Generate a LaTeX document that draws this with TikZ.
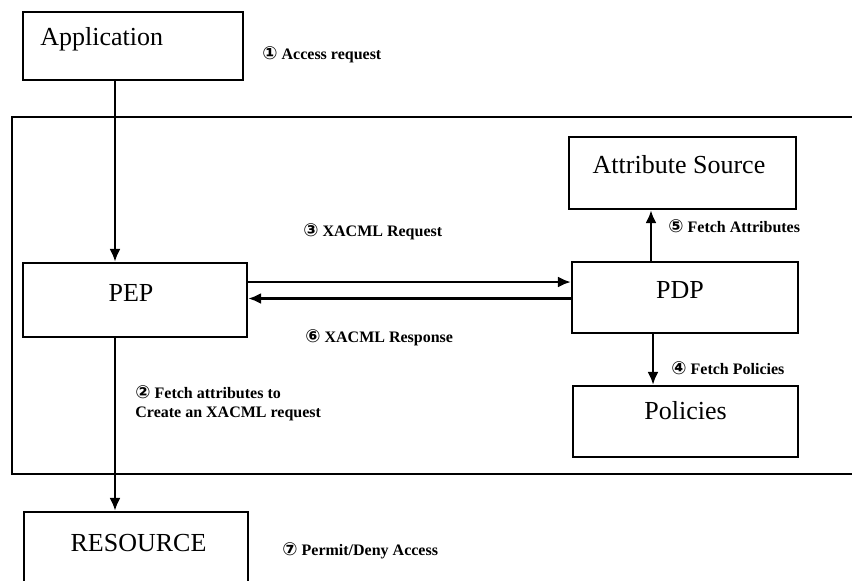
\documentclass[tikz,border=0pt]{standalone}
\usepackage{fontspec}
\setmainfont{Liberation Serif}
\newfontfamily\circfont{DejaVu Sans}
\usetikzlibrary{arrows.meta,calc}
\newcommand{\stepno}[1]{{\circfont\fontsize{9}{10}\selectfont #1}}
\tikzset{
  blk/.style={draw=black,line width=1.2pt,inner sep=0pt},
  blktxt/.style={font=\fontsize{13}{15}\selectfont,inner sep=0pt,anchor=base},
  lbl/.style={font=\fontsize{8}{9.5}\selectfont\bfseries,anchor=base west,inner sep=0pt},
  con/.style={-{Latex[length=6.5pt,width=5.5pt]},line width=1.1pt},
}

\begin{document}
\begin{tikzpicture}[x=0.5pt,y=-0.5pt]
  \clip (0,0) rectangle (852,580);
  % outer frame (right side runs off the page)
  \draw[line width=1.2pt] (870,117) -- (12,117) -- (12,474) -- (870,474);

  % boxes
  \node[blk,minimum width=110pt,minimum height=34pt] (app) at (133,46) {};
  \node[blk,minimum width=112pt,minimum height=37pt] (pep) at (135,300) {};
  \node[blk,minimum width=113pt,minimum height=35.5pt] (pdp) at (685,297.5) {};
  \node[blk,minimum width=113.5pt,minimum height=36pt] (attr) at (682.5,173) {};
  \node[blk,minimum width=112.5pt,minimum height=35.5pt] (pol) at (685.5,421.5) {};
  \node[blk,minimum width=112pt,minimum height=44pt] (res) at (136,556) {};

  % box texts
  \node[blktxt,anchor=base west] (apptxt) at (40,45) {Application};
  \node[blktxt] (attrtxt) at (679,173) {Attribute Source};
  \node[blktxt] (peptxt) at (131,301) {PEP};
  \node[blktxt] (pdptxt) at (680,298) {PDP};
  \node[blktxt] (poltxt) at (685.5,419) {Policies};
  \node[blktxt] (restxt) at (138.5,551) {RESOURCE};

  % connectors
  \draw[con] ([xshift=-9pt]app.south) -- ([xshift=-9pt]app.south |- pep.north);
  \draw[con] ([xshift=-10pt]pep.south) -- ([xshift=-10pt]pep.south |- res.north);
  \draw[con] ([yshift=9pt]pep.east) -- ([yshift=9pt]pep.east -| pdp.west);
  \draw[con] ([yshift=-0.5pt]pdp.west) -- ([yshift=-0.5pt]pdp.west -| pep.east);
  \draw[con] ([xshift=-17pt]pdp.north) -- ([xshift=-17pt]pdp.north |- attr.south);
  \draw[con] ([xshift=-16pt]pdp.south) -- ([xshift=-16pt]pdp.south |- pol.north);

  % step labels
  \node[lbl] (s1) at (262,59) {\stepno{①} Access request};
  \node[lbl] (s3) at (303,236) {\stepno{③} XACML Request};
  \node[lbl] (s6) at (305,342) {\stepno{⑥} XACML Response};
  \node[lbl] (s5) at (668,232) {\stepno{⑤} Fetch Attributes};
  \node[lbl] (s4) at (671,374) {\stepno{④} Fetch Policies};
  \node[lbl,anchor=north west,align=left] (s2) at (135,385)
    {\stepno{②} Fetch attributes to\\Create an XACML request};
  \node[lbl] (s7) at (282,555) {\stepno{⑦} Permit/Deny Access};
\end{tikzpicture}
\end{document}
